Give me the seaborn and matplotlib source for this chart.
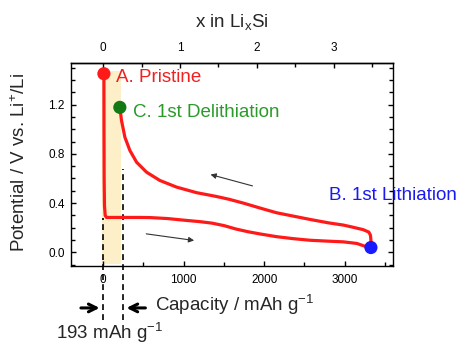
import numpy as np
import matplotlib
matplotlib.use('Agg')
import matplotlib.pyplot as plt
import seaborn as sns

# First cycle of a Si anode
cap_lith = [9, 10, 12, 16, 25, 42, 150, 300, 450, 580, 800, 1000, 1200, 1350, 1500,
            1650, 1800, 1950, 2154, 2360, 2568, 2780, 2985, 3151, 3276, 3326]
v_lith = [1.45, 1.00, 0.60, 0.38, 0.30, 0.284, 0.284, 0.284, 0.284, 0.283, 0.275, 0.262,
          0.250, 0.238, 0.218, 0.190, 0.168, 0.150, 0.128, 0.112, 0.099, 0.092, 0.086,
          0.073, 0.045, 0.040]

cap_delith = [3326, 3326, 3320, 3300, 3230, 3100, 2985, 2800, 2568, 2360, 2154, 1950,
              1743, 1560, 1400, 1160, 912, 704, 539, 415, 332, 270, 228, 207]
v_delith = [0.040, 0.10, 0.14, 0.165, 0.185, 0.205, 0.222, 0.240, 0.268, 0.295, 0.322,
            0.360, 0.400, 0.432, 0.455, 0.485, 0.530, 0.584, 0.651, 0.732, 0.827, 0.934,
            1.069, 1.177]

# state markers
points_cap = [9, 3326, 207]
points_v = [1.45, 0.040, 1.177]
points_col = ['#ff1a1a', '#1a1aff', '#137a13']
point_labels = ['A. Pristine', 'B. 1st Lithiation', 'C. 1st Delithiation']
label_cap = [158, 2807, 376]
label_v = [1.417, 0.463, 1.136]
label_col = ['#f02020', '#1a1af0', '#2a9a2a']

irreversible = 193           # mAh/g, first cycle loss
shade_cap = [-20, 225]
shade_v = [-0.09, 1.47]
dash_cap = [0, 240]
dash_top = [0.28, 0.68]
dash_bottom = -0.55

mah_per_li = 954.4           # mAh/g per Li in LixSi

sns.set_style('ticks')
plt.rcParams['font.family'] = ['Liberation Sans', 'DejaVu Sans']
plt.rcParams['mathtext.default'] = 'regular'

fig = plt.figure(figsize=(4.67, 3.44), dpi=100)
ax = fig.add_axes([0.152, 0.2267, 0.6895, 0.5913])

# shaded irreversible region and dashed markers
ax.fill_between(shade_cap, shade_v[0], shade_v[1], color='#fdf0c8', lw=0, zorder=0)
for c, top in zip(dash_cap, dash_top):
    ax.plot([c, c], [dash_bottom, top], color='black', lw=1.2,
            ls=(0, (3.5, 2.5)), clip_on=False, zorder=1)

sns.lineplot(x=cap_lith, y=v_lith, sort=False, estimator=None, color='#ff1a1a',
             lw=2.3, ax=ax, zorder=3)
sns.lineplot(x=cap_delith, y=v_delith, sort=False, estimator=None, color='#ff1a1a',
             lw=2.3, ax=ax, zorder=3)
sns.scatterplot(x=points_cap, y=points_v, hue=point_labels, palette=points_col,
                s=90, edgecolor='none', legend=False, ax=ax, zorder=4, clip_on=False)

for txt, c, v, col in zip(point_labels, label_cap, label_v, label_col):
    ax.text(c, v, txt, color=col, fontsize=13.5, ha='left', va='center')

# direction arrows
arrow_kw = dict(arrowstyle='-|>', color='#333333', lw=0.8, mutation_scale=8)
ax.annotate('', xy=(1300, 0.638), xytext=(1888, 0.534), arrowprops=arrow_kw)
ax.annotate('', xy=(1164, 0.094), xytext=(501, 0.154), arrowprops=arrow_kw)

# width arrows under the axis
big_kw = dict(arrowstyle='->', color='black', lw=2.2, mutation_scale=14)
ax.annotate('', xy=(-10, -0.45), xytext=(-311, -0.45), arrowprops=big_kw,
            annotation_clip=False)
ax.annotate('', xy=(255, -0.45), xytext=(559, -0.45), arrowprops=big_kw,
            annotation_clip=False)

ax.set_xlim(-400, 3600)
ax.set_ylim(-0.11, 1.54)
ax.set_xticks([0, 1000, 2000, 3000])
ax.set_xticks(np.arange(0, 3600, 500), minor=True)
ax.set_yticks([0.0, 0.4, 0.8, 1.2])
ax.set_yticks(np.arange(-0.1, 1.55, 0.1), minor=True)
ax.set_yticklabels(['0.0', '0.4', '0.8', '1.2'])
ax.tick_params(which='both', direction='in', right=True, top=False,
               labelsize=8.5, width=1.0, color='black', labelcolor='black')
ax.tick_params(which='major', length=3.6)
ax.tick_params(which='minor', length=2.6)
ax.tick_params(axis='x', pad=6)
ax.tick_params(axis='y', pad=4.5)
for sp in ax.spines.values():
    sp.set_linewidth(1.0)
    sp.set_color('black')
    sp.set_visible(True)

sec = ax.secondary_xaxis('top', functions=(lambda c: c / mah_per_li,
                                           lambda x: x * mah_per_li))
sec.set_xticks([0, 1, 2, 3])
sec.set_xticks(np.arange(0, 3.8, 0.5), minor=True)
sec.tick_params(which='both', direction='in', labelsize=8.5, width=1.0, pad=6,
                color='black', labelcolor='black')
sec.tick_params(which='major', length=3.6)
sec.tick_params(which='minor', length=2.6)
sec.spines['top'].set_linewidth(1.0)
sec.spines['top'].set_color('black')

fig.text(232 / 467, 1 - 21.5 / 344, 'x in Li$_x$Si', fontsize=13.5,
         ha='center', va='center')
fig.text(19.5 / 467, 1 - 163 / 344, 'Potential / V vs. Li$^{+}$/Li', fontsize=13.5,
         rotation=90, ha='center', va='center')
fig.text(155 / 467, 1 - 305 / 344, 'Capacity / mAh g$^{-1}$', fontsize=13.5,
         ha='left', va='center')
fig.text(110 / 467, 1 - 333 / 344, f'{irreversible} mAh g$^{{-1}}$', fontsize=13.5,
         ha='center', va='center')

fig.savefig('out.png', dpi=100)
